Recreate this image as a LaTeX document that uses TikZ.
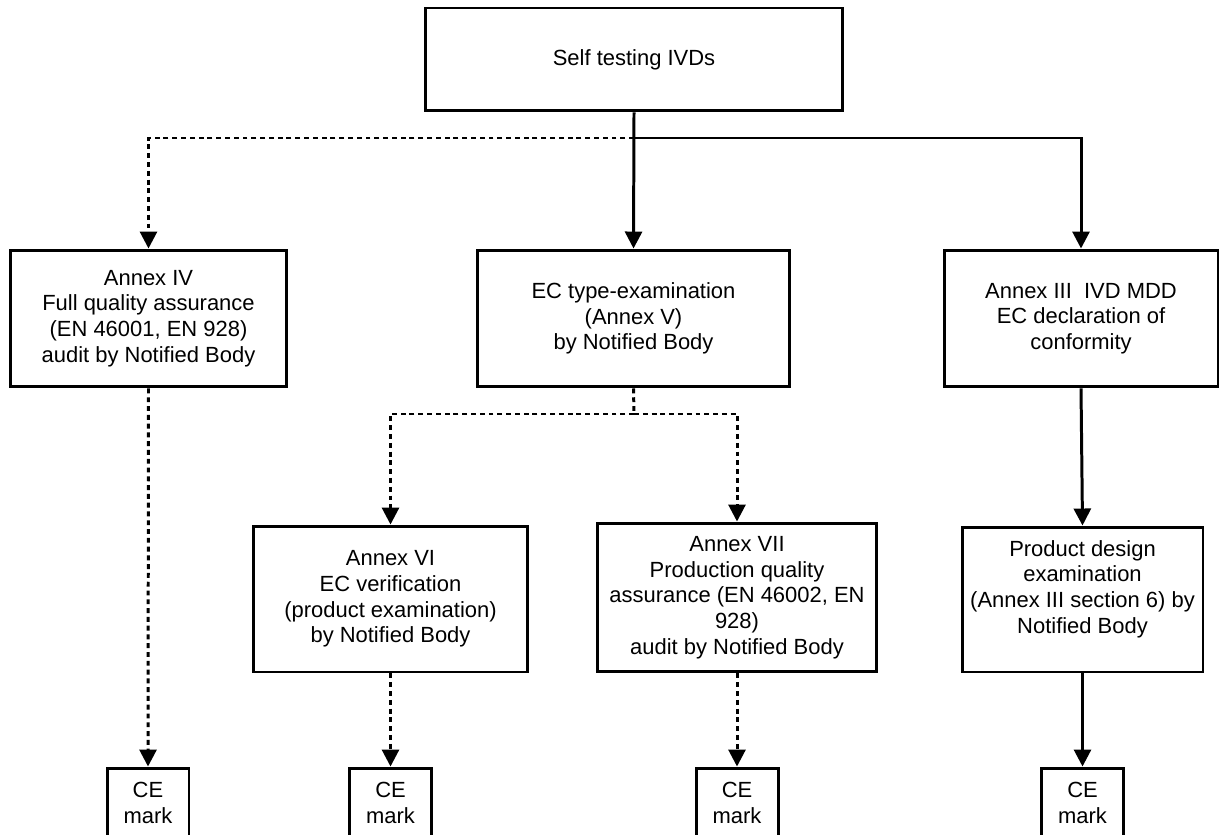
\documentclass[tikz,border=0pt]{standalone}
\usepackage{fontspec}
\setmainfont{Liberation Sans}
\usepackage{tikz}
\usetikzlibrary{arrows.meta,positioning}
\tikzstyle{block} = [rectangle, draw=black, line width=1.7pt, align=center, inner sep=2pt, font=\fontsize{12.5pt}{14.6pt}\selectfont]
\tikzstyle{link} = [line width=1.7pt]
\tikzstyle{arrow} = [link, -{Triangle[length=0.34cm,width=0.34cm]}]
\tikzstyle{dotted link} = [link, dash pattern=on 2.8pt off 2.2pt]
\tikzstyle{dotted arrow} = [arrow, dash pattern=on 2.8pt off 2.2pt]

\begin{document}
\begin{tikzpicture}[x=0.02cm, y=-0.02cm]
    \useasboundingbox (0,0) rectangle (1222,834);

    \node[block, minimum width=8.36cm, minimum height=2.06cm] (ivds) at (634,59.5) {Self testing IVDs};

    \node[block, minimum width=5.54cm, minimum height=2.74cm] (annexiv) at (148.5,318.5) {Annex IV\\Full quality assurance\\(EN 46001, EN 928)\\audit by Notified Body};
    \node[block, minimum width=6.26cm, minimum height=2.74cm] (typeexam) at (633.5,318.5) {EC type-examination\\(Annex V)\\by Notified Body};
    \node[block, minimum width=5.48cm, minimum height=2.74cm] (annexiii) at (1081,318.5) {Annex III~~IVD MDD\\EC declaration of\\conformity};

    \node[block, minimum width=5.5cm, minimum height=2.92cm] (annexvi) at (390.5,599) {Annex VI\\EC verification\\(product examination)\\by Notified Body};
    \node[block, minimum width=5.6cm, minimum height=2.98cm] (annexvii) at (737,597.5) {Annex VII\\Production quality\\assurance (EN 46002, EN\\928)\\audit by Notified Body};
    \node[block, minimum width=4.82cm, minimum height=2.9cm] (design) at (1082.5,599.5) {Product design\\examination\\(Annex III section 6) by\\Notified Body\\\mbox{}};

    % CE marks, cut by the page edge
    \node[block, minimum width=1.64cm, minimum height=1.4cm] (ce1) at (148,803) {CE\\mark};
    \node[block, minimum width=1.64cm, minimum height=1.4cm] (ce2) at (390.5,803) {CE\\mark};
    \node[block, minimum width=1.64cm, minimum height=1.4cm] (ce3) at (737,803) {CE\\mark};
    \node[block, minimum width=1.64cm, minimum height=1.4cm] (ce4) at (1082.5,803) {CE\\mark};

    \coordinate (split) at (634,138);
    \coordinate (split2) at (634,414);

    \draw[arrow] (ivds.south) -- (typeexam.north);
    \draw[dotted arrow] (split) -| (annexiv.north);
    \draw[arrow] (split) -| (annexiii.north);

    \draw[dotted link] (typeexam.south) -- (split2);
    \draw[dotted arrow] (split2) -| (annexvi.north);
    \draw[dotted arrow] (split2) -| (annexvii.north);
    \draw[arrow] (annexiii.south) -- (design.north);

    \draw[dotted arrow] (annexiv.south) -- (ce1.north);
    \draw[dotted arrow] (annexvi.south) -- (ce2.north);
    \draw[dotted arrow] (annexvii.south) -- (ce3.north);
    \draw[arrow] (design.south) -- (ce4.north);
\end{tikzpicture}
\end{document}
